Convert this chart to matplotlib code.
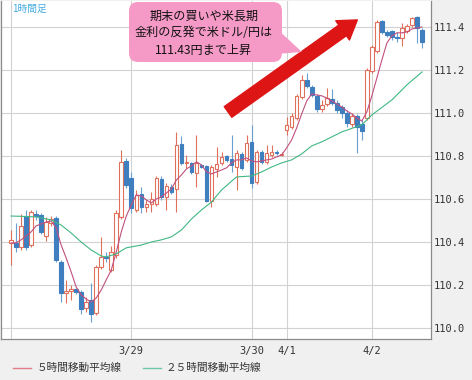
import numpy as np
import matplotlib.pyplot as plt
from matplotlib.patches import FancyBboxPatch, Polygon
from matplotlib.lines import Line2D
from matplotlib.transforms import IdentityTransform

W, H = 472, 380
jp = ['Noto Sans CJK JP', 'DejaVu Sans']
mono = ['DejaVu Sans Mono']

# USD/JPY hourly candles
opens = [110.394, 110.394, 110.375, 110.519, 110.384, 110.529, 110.524, 110.426, 110.487, 110.510,
         110.305, 110.161, 110.171, 110.180, 110.166, 110.091, 110.129, 110.068, 110.282, 110.329,
         110.268, 110.338, 110.515, 110.775, 110.696, 110.547, 110.622, 110.561, 110.575, 110.575,
         110.691, 110.608, 110.654, 110.645, 110.854, 110.766, 110.766, 110.719, 110.757, 110.752,
         110.589, 110.738, 110.766, 110.798, 110.784, 110.747, 110.808, 110.780, 110.864, 110.677,
         110.817, 110.771, 110.803, 110.817, 110.803, 110.919, 110.933, 110.975, 111.073, 111.152,
         111.119, 111.078, 111.017, 111.040, 111.064, 111.045, 111.026, 110.998, 110.947, 110.984,
         110.947, 110.975, 111.194, 111.287, 111.426, 111.375, 111.380, 111.352, 111.347, 111.380,
         111.408, 111.445, 111.384]
highs = [110.454, 110.487, 110.529, 110.547, 110.547, 110.547, 110.533, 110.515, 110.519, 110.519,
         110.315, 110.222, 110.198, 110.184, 110.175, 110.143, 110.208, 110.291, 110.422, 110.352,
         110.380, 110.547, 110.826, 110.789, 110.724, 110.640, 110.654, 110.594, 110.631, 110.705,
         110.705, 110.673, 110.668, 110.910, 110.891, 110.803, 110.771, 110.896, 110.757, 110.757,
         110.757, 110.840, 110.817, 110.803, 110.896, 110.826, 110.817, 110.896, 110.943, 110.826,
         110.826, 110.850, 110.850, 110.826, 110.817, 110.980, 110.998, 111.087, 111.175, 111.184,
         111.129, 111.087, 111.059, 111.115, 111.110, 111.059, 111.036, 111.012, 110.998, 110.994,
         110.966, 111.208, 111.315, 111.431, 111.431, 111.384, 111.384, 111.375, 111.417, 111.412,
         111.445, 111.450, 111.394]
lows = [110.291, 110.352, 110.361, 110.361, 110.375, 110.501, 110.436, 110.403, 110.473, 110.305,
        110.119, 110.115, 110.129, 110.157, 110.063, 110.073, 110.026, 110.059, 110.273, 110.305,
        110.259, 110.324, 110.505, 110.650, 110.533, 110.538, 110.533, 110.538, 110.538, 110.566,
        110.594, 110.547, 110.622, 110.538, 110.757, 110.743, 110.715, 110.654, 110.743, 110.584,
        110.561, 110.701, 110.757, 110.771, 110.724, 110.640, 110.733, 110.771, 110.650, 110.668,
        110.761, 110.761, 110.794, 110.803, 110.798, 110.896, 110.924, 110.966, 111.064, 111.115,
        111.073, 111.003, 111.003, 111.031, 111.036, 110.998, 110.975, 110.933, 110.933, 110.812,
        110.873, 110.966, 111.184, 111.277, 111.366, 111.352, 111.338, 111.329, 111.310, 111.371,
        111.398, 111.324, 111.301]
closes = [110.408, 110.375, 110.473, 110.375, 110.538, 110.519, 110.445, 110.491, 110.505, 110.315,
          110.161, 110.171, 110.180, 110.166, 110.087, 110.119, 110.063, 110.282, 110.329, 110.324,
          110.352, 110.533, 110.771, 110.664, 110.557, 110.617, 110.561, 110.575, 110.598, 110.696,
          110.608, 110.659, 110.631, 110.850, 110.766, 110.771, 110.724, 110.766, 110.747, 110.589,
          110.747, 110.761, 110.794, 110.780, 110.757, 110.812, 110.743, 110.859, 110.673, 110.817,
          110.771, 110.812, 110.817, 110.812, 110.808, 110.943, 110.984, 111.078, 111.152, 111.124,
          111.082, 111.017, 111.036, 111.068, 111.045, 111.012, 110.998, 110.952, 110.984, 110.933,
          110.915, 111.198, 111.305, 111.422, 111.375, 111.361, 111.352, 111.347, 111.394, 111.403,
          111.440, 111.394, 111.329]

# 5-hour moving average, one value per candle
ma5 = [110.394, 110.394, 110.408, 110.426, 110.445, 110.473, 110.482, 110.491, 110.496, 110.464,
       110.384, 110.324, 110.259, 110.189, 110.152, 110.133, 110.119, 110.138, 110.175, 110.222,
       110.268, 110.352, 110.445, 110.519, 110.571, 110.617, 110.612, 110.594, 110.580, 110.598,
       110.608, 110.626, 110.645, 110.687, 110.710, 110.738, 110.752, 110.771, 110.757, 110.724,
       110.715, 110.724, 110.733, 110.743, 110.766, 110.780, 110.780, 110.789, 110.775, 110.771,
       110.775, 110.780, 110.784, 110.794, 110.803, 110.836, 110.873, 110.929, 110.994, 111.054,
       111.087, 111.082, 111.078, 111.068, 111.054, 111.040, 111.026, 111.008, 110.994, 110.975,
       110.961, 111.003, 111.078, 111.161, 111.245, 111.324, 111.357, 111.371, 111.371, 111.375,
       111.389, 111.394, 111.398]

# 25-hour moving average, read at these candle positions
ma25_idx = [0, 5, 8, 10, 12, 14, 16, 18, 19, 21, 23, 26, 28, 30, 32, 34, 36, 38, 40, 42,
            45, 48, 50, 52, 54, 56, 58, 60, 62, 66, 70, 72, 76, 79, 82]
ma25 = [110.519, 110.515, 110.501, 110.477, 110.440, 110.398, 110.361, 110.333, 110.329, 110.343,
        110.371, 110.384, 110.398, 110.408, 110.422, 110.454, 110.505, 110.547, 110.584, 110.640,
        110.701, 110.705, 110.724, 110.747, 110.766, 110.780, 110.808, 110.845, 110.864, 110.910,
        110.943, 110.989, 111.059, 111.129, 111.189]

date_idx = [0, 24, 48, 55, 72]
date_labels = ['', '3/29', '3/30', '4/1', '4/2']
yticks = [110.0, 110.2, 110.4, 110.6, 110.8, 111.0, 111.2, 111.4]

up_col = '#e0705c'
dn_col = '#3f7fbf'
dn_wick = '#6a9fd2'
ma5_col = '#c0507e'
ma25_col = '#40b884'

fig = plt.figure(figsize=(W / 100, H / 100), dpi=100, facecolor='#f0f0f0')
ax = fig.add_axes([1 / W, 1 - 339 / H, 430 / W, 338 / H])
ax.set_facecolor('white')

x = np.arange(len(opens))
o, h, l, c = map(np.array, (opens, highs, lows, closes))
up = c >= o

ax.vlines(x[up], l[up], h[up], color=up_col, lw=0.8, zorder=3)
ax.vlines(x[~up], l[~up], h[~up], color=dn_wick, lw=0.8, zorder=3)
ax.bar(x[up], c[up] - o[up], bottom=o[up], width=0.72, facecolor='white',
       edgecolor=up_col, lw=0.8, zorder=4)
ax.bar(x[~up], o[~up] - c[~up], bottom=c[~up], width=0.72, facecolor=dn_col,
       edgecolor=dn_col, lw=0.8, zorder=4)

ax.plot(x, ma5, color=ma5_col, lw=0.8, zorder=5)
ax.plot(ma25_idx, ma25, color=ma25_col, lw=0.8, zorder=5)

# grid
ax.set_yticks(yticks)
ax.set_yticklabels([f'{v:.1f}' for v in yticks], family=mono, fontsize=7.5, color='#333333')
ax.grid(axis='y', color='#d2d2d2', lw=0.8, zorder=0)
for d in date_idx:
    ax.axvline(d, color='#d2d2d2', lw=0.8, zorder=0)
ax.set_xticks(date_idx[1:])
ax.set_xticklabels(date_labels[1:], family=mono, fontsize=7.5, color='#333333')
ax.yaxis.tick_right()
ax.tick_params(length=0, pad=2)
ax.tick_params(axis='x', pad=5)

ax.set_xlim(-2.0, 83.8)
ax.set_ylim(109.947, 111.519)
for s in ax.spines.values():
    s.set_color('#8a8a8a')
    s.set_linewidth(0.9)
ax.spines['top'].set_visible(False)

# big red arrow
ax.annotate('', xy=(69.1, 111.431), xytext=(43.3, 111.003),
            arrowprops=dict(arrowstyle='simple,head_length=1.3,head_width=1.7,tail_width=0.94',
                            mutation_scale=10, color='#dd1515', shrinkA=0, shrinkB=0),
            zorder=6)

# pink callout (pixel coordinates, y from top)
pink = '#f59ac6'
box = FancyBboxPatch((129, H - 62), 153, 60, boxstyle='round,pad=0,rounding_size=9',
                     transform=IdentityTransform(), facecolor=pink, edgecolor='none', zorder=10)
fig.add_artist(box)
tail = Polygon([(276, H - 28), (302, H - 52), (276, H - 54)], closed=True,
               transform=IdentityTransform(), facecolor=pink, edgecolor='none', zorder=10)
fig.add_artist(tail)
for txt, yy in [('期末の買いや米長期', 16), ('金利の反発で米ドル/円は', 33), ('111.43円まで上昇', 50)]:
    fig.text(204 / W, 1 - yy / H, txt, family=jp, fontsize=8.7, ha='center', va='center',
             color='#111111', zorder=11)

fig.text(12 / W, 1 - 9 / H, '1時間足', family=jp, fontsize=7, color='#45ace0',
         va='center', ha='left')

# legend
ly = 1 - 368 / H
fig.add_artist(Line2D([13 / W, 31 / W], [ly, ly], color='#e07c8c', lw=1))
fig.text(37 / W, ly, '５時間移動平均線', family=jp, fontsize=7.7, color='#333333', va='center')
fig.add_artist(Line2D([143 / W, 161 / W], [ly, ly], color='#6cc8a6', lw=1))
fig.text(165 / W, ly, '２５時間移動平均線', family=jp, fontsize=7.7, color='#333333', va='center')

fig.savefig('out.png', dpi=100, facecolor=fig.get_facecolor())
